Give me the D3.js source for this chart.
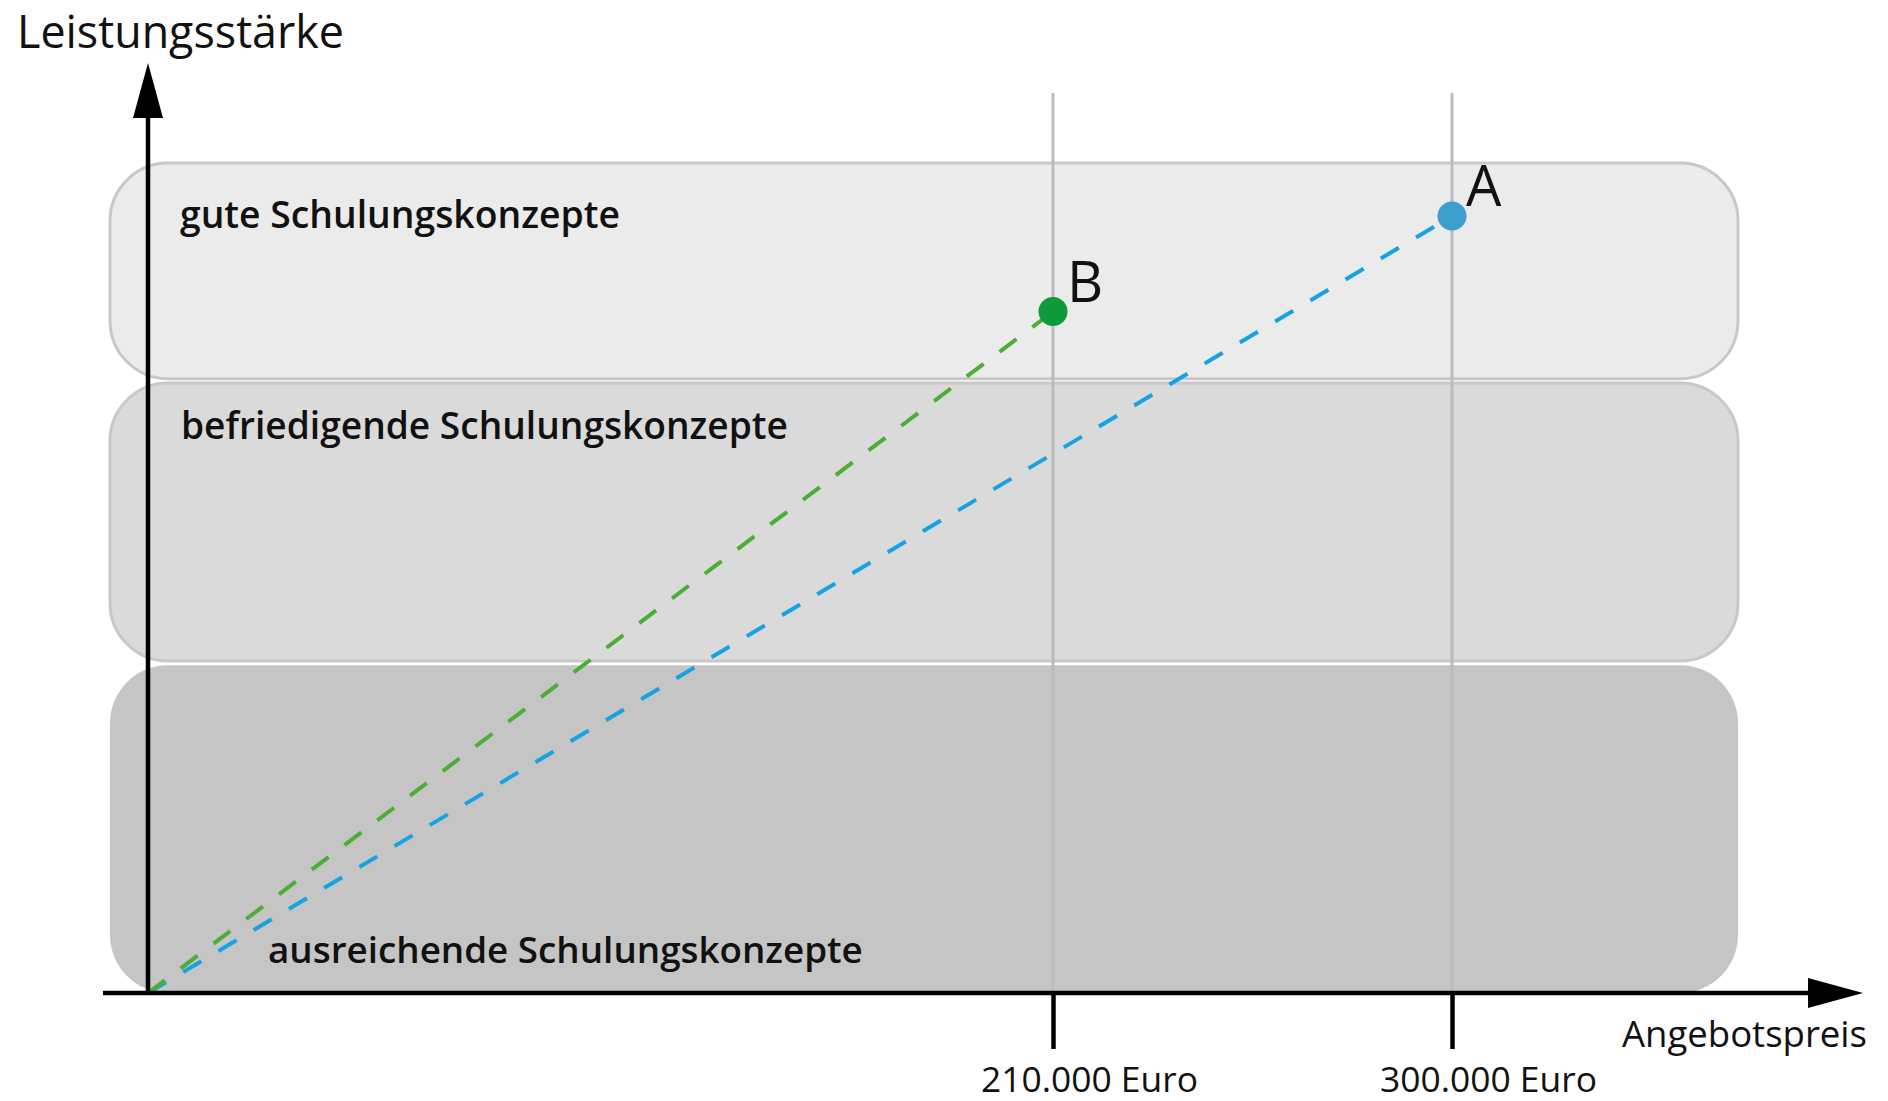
<!DOCTYPE html>
<html><head><meta charset="utf-8">
<script src="https://cdn.jsdelivr.net/npm/d3@7"></script>
<style>html,body{margin:0;padding:0;background:#fff;} svg{display:block;}</style>
</head><body>
<script>
// ---- data ----
const bandLabels = ["gute Schulungskonzepte", "befriedigende Schulungskonzepte", "ausreichende Schulungskonzepte"];
const bandFrom = [74, 40, 0];
const bandTo = [100, 73.5, 39.5];
const bandFill = ["#ebebeb", "#dadada", "#c6c5c6"];
const bandStroke = ["#c8c8c8", "#c8c8c8", "none"];
const pointNames = ["A", "B"];
const pointPrice = [300000, 210000];
const pointScore = [93.6, 82.1];
const pointColor = ["#3d9fd0", "#0e9a3a"];
const lineColor = ["#17a3e2", "#4cae36"];
const tickValues = [210000, 300000];
const tickLabels = ["210.000 Euro", "300.000 Euro"];
const xTitle = "Angebotspreis";
const yTitle = "Leistungsstärke";

// ---- layout ----
const W = 1888, H = 1101;
const FONT = "'Open Sans', 'Noto Sans', sans-serif";
const svg = d3.select("body").append("svg").attr("width", W).attr("height", H);

const x = d3.scaleLinear().domain([0, 210000, 300000]).range([148, 1053, 1452]);
const y = d3.scaleLinear().domain([0, 100]).range([993, 163]);

function fit(sel, w) {
  const len = sel.node().getComputedTextLength();
  const fs = parseFloat(sel.attr("font-size"));
  sel.attr("font-size", (fs * w / len).toFixed(2));
}

// bands
const bandX0 = 110, bandX1 = 1738;
const bands = svg.append("g");
bandLabels.forEach((lab, i) => {
  bands.append("rect")
    .attr("x", bandX0).attr("width", bandX1 - bandX0)
    .attr("y", y(bandTo[i])).attr("height", y(bandFrom[i]) - y(bandTo[i]))
    .attr("rx", 58).attr("ry", 58)
    .attr("fill", bandFill[i])
    .attr("stroke", bandStroke[i]).attr("stroke-width", 3);
});

// grid lines
svg.append("g").selectAll("line").data(tickValues).join("line")
  .attr("x1", d => x(d)).attr("x2", d => x(d))
  .attr("y1", 93).attr("y2", y(0))
  .attr("stroke", "#bbbbbb").attr("stroke-width", 3);

// band labels
const labelX = [180, 181, 268];
const labelY = [228, 439, 963];
const labelW = [440, 607, 595];
bandLabels.forEach((lab, i) => {
  const t = svg.append("text")
    .attr("x", labelX[i]).attr("y", labelY[i])
    .attr("font-family", FONT).attr("font-weight", 600).attr("font-size", 40)
    .attr("fill", "#111").text(lab);
  fit(t, labelW[i]);
});

// dashed lines
pointNames.forEach((n, i) => {
  svg.append("line")
    .attr("x1", x(0)).attr("y1", y(0))
    .attr("x2", x(pointPrice[i])).attr("y2", y(pointScore[i]))
    .attr("stroke", lineColor[i]).attr("stroke-width", 4)
    .attr("stroke-dasharray", "21,20");
});

// x axis (ticks + labels via d3.axisBottom)
const xAxis = d3.axisBottom(x).tickValues(tickValues)
  .tickFormat((d, i) => tickLabels[i]).tickSize(56).tickPadding(0);
const gx = svg.append("g").attr("transform", `translate(0,${y(0)})`).call(xAxis);
gx.select(".domain").remove();
gx.selectAll(".tick line").attr("stroke", "#000").attr("stroke-width", 4.5);
gx.selectAll(".tick text")
  .attr("x", 36).attr("y", 99).attr("dy", 0)
  .attr("font-family", FONT).attr("font-size", 38).attr("fill", "#111")
  .each(function () { fit(d3.select(this), 217); });

// axis lines with arrows
svg.append("line").attr("x1", 103).attr("x2", 1812).attr("y1", y(0)).attr("y2", y(0))
  .attr("stroke", "#000").attr("stroke-width", 4.5);
svg.append("path").attr("d", `M1863,${y(0)} L1808,${y(0) - 15} L1808,${y(0) + 15} Z`).attr("fill", "#000");
svg.append("line").attr("x1", x(0)).attr("x2", x(0)).attr("y1", y(0) + 2).attr("y2", 114)
  .attr("stroke", "#000").attr("stroke-width", 4.5);
svg.append("path").attr("d", `M${x(0)},63 L${x(0) - 15},118 L${x(0) + 15},118 Z`).attr("fill", "#000");

// points
pointNames.forEach((n, i) => {
  svg.append("circle").attr("cx", x(pointPrice[i])).attr("cy", y(pointScore[i]))
    .attr("r", 14.5).attr("fill", pointColor[i]);
  svg.append("text").attr("x", x(pointPrice[i]) + 14).attr("y", y(pointScore[i]) - 10)
    .attr("font-family", FONT).attr("font-size", 56).attr("fill", "#111").text(n);
});

// axis titles
const ty = svg.append("text").attr("x", 17).attr("y", 48)
  .attr("font-family", FONT).attr("font-size", 46).attr("fill", "#111").text(yTitle);
fit(ty, 327);
const tx = svg.append("text").attr("x", 1622).attr("y", 1047)
  .attr("font-family", FONT).attr("font-size", 40).attr("fill", "#111").text(xTitle);
fit(tx, 245);
</script>
</body></html>
